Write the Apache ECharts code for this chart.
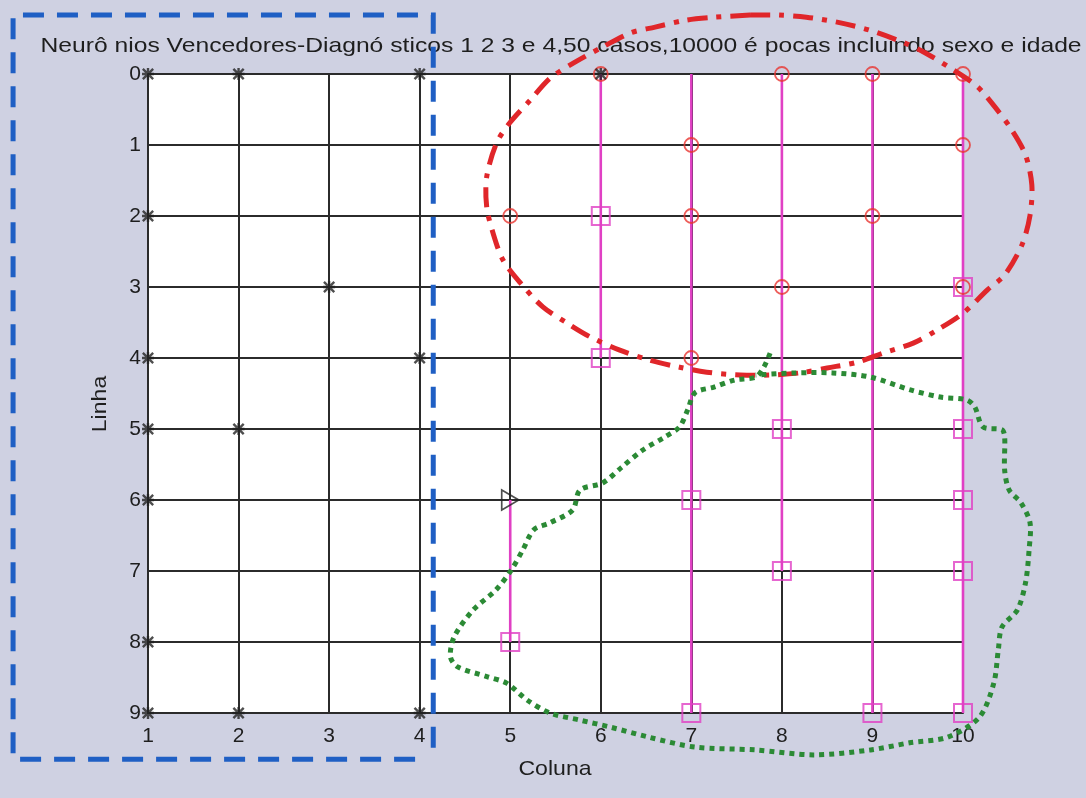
<!DOCTYPE html>
<html>
<head>
<meta charset="utf-8">
<title>Neurônios Vencedores</title>
<script src="https://cdn.jsdelivr.net/npm/echarts@6/dist/echarts.min.js"></script>
<style>
  html, body { margin: 0; padding: 0; background: #cfd1e2; }
  #chart { width: 1086px; height: 798px; }
</style>
</head>
<body>
<div id="chart"></div>
<script>
// ---- map layout (10 columns x 10 rows of neurons) ----
const columnTicks = [1, 2, 3, 4, 5, 6, 7, 8, 9, 10];
const rowTicks = [0, 1, 2, 3, 4, 5, 6, 7, 8, 9];

// ---- winning neurons per diagnostic class: [coluna, linha] ----
const starNeurons = [
  [1, 0], [2, 0], [4, 0], [6, 0],
  [1, 2], [3, 3], [1, 4], [4, 4],
  [1, 5], [2, 5], [1, 6], [1, 8],
  [1, 9], [2, 9], [4, 9]
];
const circleNeurons = [
  [6, 0], [8, 0], [9, 0], [10, 0],
  [7, 1], [10, 1],
  [5, 2], [7, 2], [9, 2],
  [8, 3], [10, 3],
  [7, 4]
];
const squareNeurons = [
  [6, 2], [10, 3], [6, 4],
  [8, 5], [10, 5],
  [7, 6], [10, 6],
  [8, 7], [10, 7],
  [5, 8],
  [7, 9], [9, 9], [10, 9]
];
const triangleNeurons = [[5, 6]];

// magenta links between neighbouring neurons: [coluna, linha inicial, linha final]
const magentaLinks = [
  [5, 6, 8],
  [6, 0, 4],
  [7, 0, 9],
  [8, 0, 7],
  [9, 0, 9],
  [10, 0, 9]
];

// ---- hand-drawn outlines, in map units (coluna, linha) ----
const blueBoxOutline = [
  [4.15, 9.49], [4.15, -0.83], [-0.49, -0.83], [-0.49, 9.65], [4.08, 9.65]
];
const redEllipseOutline = [
  [7.65, -0.83], [7.96, -0.83], [8.27, -0.80], [8.61, -0.73], [8.96, -0.62],
  [9.35, -0.44], [9.58, -0.30], [9.89, -0.06], [10.16, 0.18], [10.35, 0.46],
  [10.54, 0.79], [10.69, 1.14], [10.76, 1.56], [10.74, 1.99], [10.65, 2.41],
  [10.46, 2.83], [10.27, 3.04], [10.00, 3.37], [9.71, 3.61], [9.45, 3.79],
  [9.12, 3.93], [8.83, 4.06], [8.50, 4.14], [8.20, 4.21], [7.87, 4.24],
  [7.54, 4.24], [7.17, 4.20], [6.87, 4.13], [6.54, 4.03], [6.21, 3.89],
  [5.88, 3.70], [5.63, 3.51], [5.36, 3.28], [5.11, 2.94], [4.92, 2.62],
  [4.81, 2.24], [4.74, 1.87], [4.74, 1.45], [4.85, 0.97], [5.00, 0.68],
  [5.22, 0.37], [5.44, 0.06], [5.72, -0.17], [6.02, -0.38], [6.33, -0.58],
  [6.60, -0.66], [6.95, -0.76], [7.26, -0.80], [7.65, -0.83]
];
const greenBlobOutline = [
  [7.87, 3.93], [7.80, 4.13], [7.71, 4.27], [7.48, 4.31], [7.25, 4.41],
  [7.04, 4.49], [6.96, 4.73], [6.87, 4.97], [6.71, 5.11], [6.46, 5.30],
  [6.23, 5.54], [6.02, 5.76], [5.77, 5.86], [5.69, 6.14], [5.44, 6.32],
  [5.26, 6.42], [5.14, 6.70], [5.01, 6.99], [4.84, 7.27], [4.59, 7.55],
  [4.38, 7.93], [4.34, 8.21], [4.42, 8.35], [4.75, 8.49], [4.96, 8.58],
  [5.19, 8.82], [5.44, 9.00], [5.77, 9.10], [6.11, 9.20], [6.53, 9.34],
  [7.04, 9.48], [7.71, 9.52], [8.35, 9.59], [8.98, 9.52], [9.41, 9.42],
  [9.83, 9.34], [10.18, 9.06], [10.34, 8.58], [10.39, 8.11], [10.43, 7.79],
  [10.60, 7.55], [10.69, 7.17], [10.73, 6.70], [10.74, 6.32], [10.64, 6.04],
  [10.51, 5.86], [10.46, 5.58], [10.46, 5.11], [10.43, 5.01], [10.22, 4.97],
  [10.13, 4.69], [10.04, 4.59], [9.75, 4.55], [9.42, 4.45], [8.98, 4.27],
  [8.56, 4.21], [8.15, 4.21], [7.71, 4.24]
];

const titleText = 'Neurô nios Vencedores-Diagnó sticos 1 2 3 e 4,50 casos,10000 é pocas incluindo sexo e idade';
const xAxisName = 'Coluna';
const yAxisName = 'Linha';

// asterisk marker built from four thin bars
const asteriskPath = 'path://M4,0h2v10h-2z M0,4h10v2h-10z M1.4,0L10,8.6L8.6,10L0,1.4z M8.6,0L10,1.4L1.4,10L0,8.6z';

const FONT = '"Liberation Sans", Arial, sans-serif';
const MAGENTA = '#e040c4';
const RED = '#e8342f';
const INK = '#2b2b2b';
const TEXT = '#1e1e1e';

const series = [];

magentaLinks.forEach(([c, r0, r1]) => {
  series.push({
    type: 'line',
    data: [[c, r0], [c, r1]],
    symbol: 'none',
    lineStyle: { color: MAGENTA, width: 2.6 },
    z: 3,
    silent: true
  });
});

series.push({
  type: 'scatter',
  data: circleNeurons,
  symbol: 'circle',
  symbolSize: 14,
  itemStyle: { color: 'rgba(0,0,0,0)', borderColor: RED, borderWidth: 1.8 },
  z: 4
});
series.push({
  type: 'scatter',
  data: squareNeurons,
  symbol: 'rect',
  symbolSize: 18,
  itemStyle: { color: 'rgba(0,0,0,0)', borderColor: MAGENTA, borderWidth: 2 },
  z: 4
});
series.push({
  type: 'scatter',
  data: starNeurons,
  symbol: asteriskPath,
  symbolSize: 12,
  itemStyle: { color: '#222' },
  z: 5
});
series.push({
  type: 'scatter',
  data: triangleNeurons,
  symbol: 'triangle',
  symbolRotate: -90,
  symbolSize: [20, 17],
  itemStyle: { color: 'rgba(0,0,0,0)', borderColor: '#222', borderWidth: 1.8 },
  z: 5
});

// hand-drawn outlines, projected through the cartesian axes
function outlineSeries(points, stroke, dash, smooth) {
  return {
    type: 'custom',
    data: [[1, 0]],
    clip: false,
    silent: true,
    z: 10,
    renderItem: function (params, api) {
      return {
        type: 'polyline',
        shape: { points: points.map(p => api.coord(p)), smooth: smooth },
        style: { fill: null, stroke: stroke, lineWidth: 5, lineDash: dash, lineCap: 'butt', lineJoin: 'miter' }
      };
    }
  };
}
series.push(outlineSeries(blueBoxOutline, '#1f5fc4', [21, 13], 0));
series.push(outlineSeries(redEllipseOutline, '#e0262a', [20, 9, 5, 9], 0.3));
series.push(outlineSeries(greenBlobOutline, '#2b8a35', [5, 5], 0.3));

const chart = echarts.init(document.getElementById('chart'), null, { renderer: 'canvas' });
chart.setOption({
  animation: false,
  backgroundColor: '#cfd1e2',
  graphic: [
    {
      type: 'text', x: 561, y: 46, scaleX: 1.175,
      style: { text: titleText, fill: TEXT, font: '21px ' + FONT, align: 'center', verticalAlign: 'middle' },
      z: 1
    },
    {
      type: 'text', x: 555, y: 769, scaleX: 1.1,
      style: { text: xAxisName, fill: TEXT, font: '21px ' + FONT, align: 'center', verticalAlign: 'middle' }
    },
    {
      type: 'text', x: 100, y: 404, rotation: Math.PI / 2, scaleX: 1.1,
      style: { text: yAxisName, fill: TEXT, font: '21px ' + FONT, align: 'center', verticalAlign: 'middle' }
    }
  ],
  grid: {
    left: 148, right: 123, top: 74, bottom: 85,
    show: true, backgroundColor: '#ffffff', borderWidth: 0
  },
  xAxis: {
    type: 'value',
    min: columnTicks[0],
    max: columnTicks[columnTicks.length - 1],
    interval: 1,
    axisLine: { show: true, onZero: false, lineStyle: { color: INK, width: 2 } },
    axisTick: { show: false },
    axisLabel: { color: TEXT, fontSize: 21, fontFamily: FONT, margin: 13 },
    splitLine: { show: true, lineStyle: { color: INK, width: 2 } }
  },
  yAxis: {
    type: 'value',
    inverse: true,
    min: rowTicks[0],
    max: rowTicks[rowTicks.length - 1],
    interval: 1,
    axisLine: { show: true, onZero: false, lineStyle: { color: INK, width: 2 } },
    axisTick: { show: false },
    axisLabel: { color: TEXT, fontSize: 21, fontFamily: FONT, margin: 7 },
    splitLine: { show: true, lineStyle: { color: INK, width: 2 } }
  },
  series: series
});
</script>
</body>
</html>
